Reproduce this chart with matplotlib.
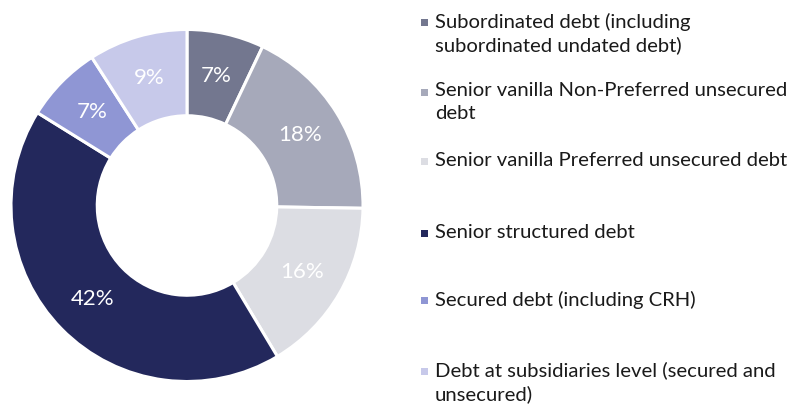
import matplotlib
matplotlib.use("Agg")
import matplotlib.pyplot as plt
from matplotlib.patches import Rectangle
import numpy as np

categories = [
    "Subordinated debt (including\nsubordinated undated debt)",
    "Senior vanilla Non-Preferred unsecured\ndebt",
    "Senior vanilla Preferred unsecured debt",
    "Senior structured debt",
    "Secured debt (including CRH)",
    "Debt at subsidiaries level (secured and\nunsecured)",
]
values = [7, 18, 16, 42, 7, 9]
pct_labels = ["7%", "18%", "16%", "42%", "7%", "9%"]
colors = ["#73778f", "#a6a9ba", "#dcdde3", "#23285c", "#8f96d4", "#c7c9ea"]

plt.rcParams['font.family'] = ['Lato', 'DejaVu Sans']

W, H = 789, 405
fig = plt.figure(figsize=(W / 100, H / 100), dpi=100)

cx, cy, R = 187, 205.5, 176
ax = fig.add_axes([(cx - R) / W, (H - cy - R) / H, 2 * R / W, 2 * R / H])
wedges, _ = ax.pie(values, colors=colors, startangle=90, counterclock=False,
                   radius=1.0, normalize=True,
                   wedgeprops=dict(width=0.49, edgecolor="white", linewidth=2.2))
total = sum(values)
cum = 0
for v, lab in zip(values, pct_labels):
    mid = cum + v / 2
    ang = np.deg2rad(90 - 360 * mid / total)
    r = 0.755
    ax.text(r * np.cos(ang), r * np.sin(ang), lab, ha="center", va="center",
            color="white", fontsize=16)
    cum += v
ax.set_xlim(-1, 1)
ax.set_ylim(-1, 1)
ax.axis("off")

# legend (manual)
starts_y = [22.5, 92, 161, 233, 300, 371]
for lab, col, y in zip(categories, colors, starts_y):
    fig.patches.append(Rectangle(((420.5) / W, (H - y - 3.5) / H), 7 / W, 7 / H,
                                 transform=fig.transFigure, facecolor=col,
                                 edgecolor="none"))
    fig.text(435 / W, (H - y + 9.5) / H, lab, ha="left", va="top",
             fontsize=14.6, color="#1a1a1a", linespacing=1.36)

fig.savefig("out.png", dpi=100, facecolor="white")
